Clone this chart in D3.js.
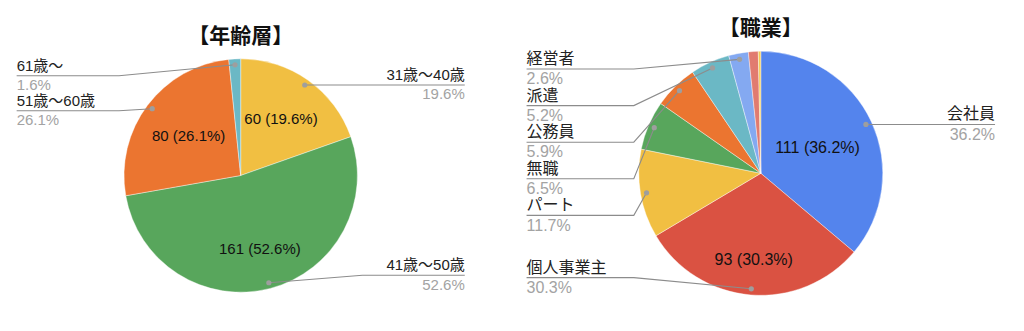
<!DOCTYPE html>
<html>
<head>
<meta charset="utf-8">
<script src="https://cdn.jsdelivr.net/npm/d3@7"></script>
<style>
  html, body { margin: 0; padding: 0; background: #fff; }
  svg { display: block; font-family: "Liberation Sans", Arial, "Noto Sans CJK JP", sans-serif; }
</style>
</head>
<body>
<div id="charts"></div>
<script>
// age groups
const ageNames = ["31歳〜40歳", "41歳〜50歳", "51歳〜60歳", "61歳〜"]
const ageValues = [60, 161, 80, 5]
const ageColors = ["#f1bf42", "#58a65c", "#eb7530", "#6bb8c5"]

// occupations (last two slices carry no label in the original)
const jobNames = ["会社員", "個人事業主", "パート", "無職", "公務員", "派遣", "経営者", "その他", "学生"]
const jobValues = [111, 93, 36, 20, 18, 16, 8, 4, 1]
const jobColors = ["#5484ed", "#da5242", "#f1bf42", "#58a65c", "#eb7530", "#6bb8c5", "#84a9f1", "#e17b70", "#f5cb55"]

const W = 1024, H = 331
const svg = d3.select("#charts").append("svg")
	.attr("width", W)
	.attr("height", H)

function drawPie(cfg) {
	const { names, values, colors, cx, cy, r, title, titleY, font } = cfg
	const total = d3.sum(values)
	const data = names.map((n, i) => ({ name: n, value: values[i], color: colors[i] }))
	const arcs = d3.pie().sort(null).value(d => d.value)(data)
	const arc = d3.arc().innerRadius(0).outerRadius(r)
	const dotArc = d3.arc().innerRadius(r * 0.95).outerRadius(r * 0.95)
	const pct = v => (v / total * 100).toFixed(1) + "%"

	svg.append("text")
		.attr("x", cx)
		.attr("y", titleY)
		.attr("dy", "0.35em")
		.attr("text-anchor", "middle")
		.attr("font-family", "'Noto Sans CJK JP', sans-serif")
		.attr("font-weight", "bold")
		.attr("font-size", 21)
		.attr("fill", "#111")
		.text(title)

	const g = svg.append("g").attr("transform", `translate(${cx},${cy})`)

	g.selectAll("path.slice")
		.data(arcs)
		.join("path")
		.attr("class", "slice")
		.attr("d", arc)
		.attr("fill", d => d.data.color)
		.attr("stroke", "#fff")
		.attr("stroke-width", 0.4)

	// inner value labels, pushed out until the far corner touches 0.86r
	const inner = arcs.filter(d => d.data.value / total >= 0.15)
	inner.forEach(d => {
		const t = g.append("text")
			.attr("font-size", font)
			.attr("fill", "#111")
			.attr("text-anchor", "middle")
			.attr("dy", "0.35em")
			.text(`${d.data.value} (${pct(d.data.value)})`)
		const w = t.node().getComputedTextLength() / 2
		const h = font * 0.5
		const a = (d.startAngle + d.endAngle) / 2
		const ux = Math.sin(a), uy = -Math.cos(a)
		const R = r * 0.86
		const b = Math.abs(ux) * w + Math.abs(uy) * h
		const c = w * w + h * h - R * R
		const dist = -b + Math.sqrt(b * b - c)
		t.attr("x", dist * ux).attr("y", dist * uy)
	})

	// outer labels with leader lines
	const labeled = arcs.filter(d => d.data.value / total >= 0.015)
	labeled.forEach(d => {
		d.dot = dotArc.centroid(d)
		d.side = (d.startAngle + d.endAngle) / 2 > Math.PI ? -1 : 1
	})
	const lo = -r + r * 0.145, hi = r - r * 0.145, gap = r * 0.3
	;[-1, 1].forEach(side => {
		const items = labeled.filter(d => d.side === side).sort((a, b) => a.dot[1] - b.dot[1])
		let prev = -Infinity
		items.forEach(d => {
			d.ly = Math.max(d.dot[1], prev + gap, lo)
			prev = d.ly
		})
		let next = Infinity
		for (let i = items.length - 1; i >= 0; i--) {
			items[i].ly = Math.min(items[i].ly, next - gap, hi)
			next = items[i].ly
		}
	})

	const line = d3.line()
	labeled.forEach(d => {
		const s = d.side
		const tx = s * r * 1.92
		const elbow = s * (r + 5)
		g.append("path")
			.attr("d", line([[tx, d.ly], [elbow, d.ly], d.dot]))
			.attr("fill", "none")
			.attr("stroke", "#8c8c8c")
			.attr("stroke-width", 1.1)
		g.append("circle")
			.attr("cx", d.dot[0])
			.attr("cy", d.dot[1])
			.attr("r", 2.6)
			.attr("fill", "#9e9e9e")
		g.append("text")
			.attr("x", tx)
			.attr("y", d.ly - 5)
			.attr("text-anchor", s < 0 ? "start" : "end")
			.attr("font-size", font)
			.attr("fill", "#222")
			.text(d.data.name)
		g.append("text")
			.attr("x", tx)
			.attr("y", d.ly + font * 0.95)
			.attr("text-anchor", s < 0 ? "start" : "end")
			.attr("font-size", font)
			.attr("fill", "#a3a3a3")
			.text(pct(d.data.value))
	})
}

drawPie({
	names: ageNames, values: ageValues, colors: ageColors,
	cx: 240.7, cy: 175.5, r: 116.7,
	title: "【年齢層】", titleY: 36, font: 15
})

drawPie({
	names: jobNames, values: jobValues, colors: jobColors,
	cx: 760.8, cy: 173.3, r: 122,
	title: "【職業】", titleY: 27.5, font: 16
})
</script>
</body>
</html>
